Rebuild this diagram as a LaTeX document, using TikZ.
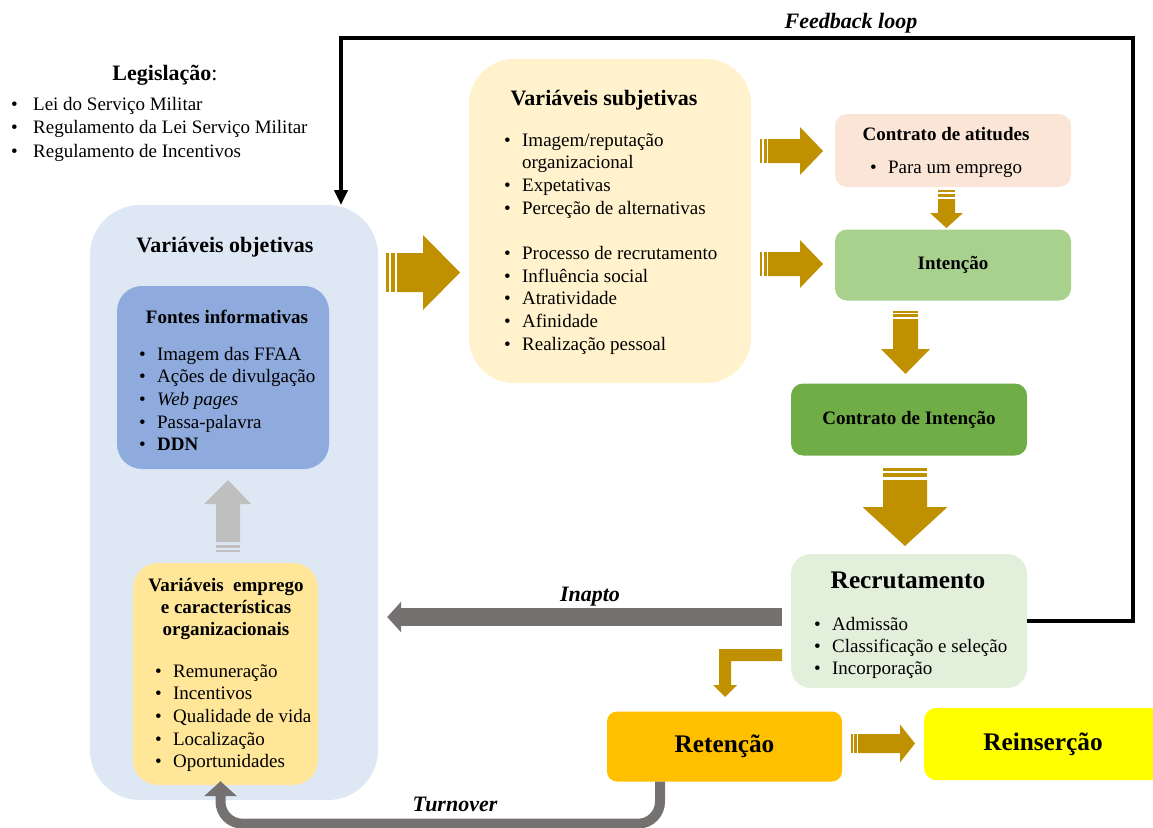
\documentclass[tikz,border=0pt]{standalone}
\usepackage{fontspec}
\setmainfont{Liberation Serif}
\usetikzlibrary{arrows.meta,calc}

\definecolor{objblue}{HTML}{DEE8F5}
\definecolor{fontblue}{HTML}{8FAADC}
\definecolor{empyellow}{HTML}{FFE699}
\definecolor{subjcream}{HTML}{FFF2CC}
\definecolor{atitpink}{HTML}{FBE5D6}
\definecolor{intgreen}{HTML}{A9D18E}
\definecolor{cintgreen}{HTML}{70AD47}
\definecolor{recrgreen}{HTML}{E2EFDA}
\definecolor{retorange}{HTML}{FFC000}
\definecolor{reinsyellow}{HTML}{FFFF00}
\definecolor{gold}{HTML}{BF9000}
\definecolor{darkgrey}{HTML}{767171}
\definecolor{lightgrey}{HTML}{BFBFBF}

% bullet list set as a two-column tabular; optional argument = gap after the bullet
\newcommand\blist[2][11.3pt]{\begin{tabular}[t]{@{}l@{\hspace{#1}}l@{}}#2\end{tabular}}

% striped block arrow pointing right:
% #1 stripes start, #2 shaft start, #3 head base, #4 tip, #5 centre y, #6 shaft half height, #7 head half height
\newcommand\goldright[7]{%
  \pgfmathsetmacro\stA{#1+0.27*(#2-#1)}%
  \pgfmathsetmacro\stB{#1+0.45*(#2-#1)}%
  \pgfmathsetmacro\stC{#1+0.82*(#2-#1)}%
  \fill[gold] (#1,#5-#6) rectangle (\stA,#5+#6);
  \fill[gold] (\stB,#5-#6) rectangle (\stC,#5+#6);
  \fill[gold] (#2,#5-#6) -- (#3,#5-#6) -- (#3,#5-#7) -- (#4,#5) -- (#3,#5+#7) -- (#3,#5+#6) -- (#2,#5+#6) -- cycle;}

% striped block arrow pointing down (same arguments, axes swapped)
\newcommand\golddown[7]{%
  \pgfmathsetmacro\stA{#1+0.22*(#2-#1)}%
  \pgfmathsetmacro\stB{#1+0.42*(#2-#1)}%
  \pgfmathsetmacro\stC{#1+0.78*(#2-#1)}%
  \fill[gold] (#5-#6,#1) rectangle (#5+#6,\stA);
  \fill[gold] (#5-#6,\stB) rectangle (#5+#6,\stC);
  \fill[gold] (#5-#6,#2) -- (#5-#6,#3) -- (#5-#7,#3) -- (#5,#4) -- (#5+#7,#3) -- (#5+#6,#3) -- (#5+#6,#2) -- cycle;}

\begin{document}
\begin{tikzpicture}[x=1pt,y=-1pt,
  panel/.style={rounded corners=#1, inner sep=0pt, draw=none},
  lst/.style={anchor=base west, inner sep=0pt, font=\fontsize{19}{22.7}\selectfont},
  ttl/.style={inner sep=0pt, font=\fontsize{22}{26}\selectfont\bfseries},
  sttl/.style={inner sep=0pt, font=\fontsize{19}{22}\selectfont\bfseries},
  bigt/.style={inner sep=0pt, font=\fontsize{25.3}{30}\selectfont\bfseries},
  lbl/.style={inner sep=0pt, font=\fontsize{22}{26}\selectfont\bfseries\itshape},
  fb/.style={line width=4pt, -{Triangle[width=13pt,length=15pt]}},
  inapto/.style={darkgrey, line width=18pt, -{Triangle[width=30pt,length=14pt]}},
  turn/.style={darkgrey, line width=10pt, rounded corners=22pt, -{Triangle[width=32pt,length=15pt]}}]

\useasboundingbox (0,0) rectangle (1153,827);

% ---------- boxes ----------
\node[panel=50pt, fill=objblue, minimum width=288pt, minimum height=595pt] (obj) at (234,502.5) {};
\node[panel=25pt, fill=fontblue, minimum width=212pt, minimum height=183pt] (font) at (223,377.5) {};
\node[panel=25pt, fill=empyellow, minimum width=185pt, minimum height=222pt] (emp) at (225.5,674) {};
\node[panel=45pt, fill=subjcream, minimum width=282pt, minimum height=324pt] (subj) at (610,221) {};
\node[panel=12pt, fill=atitpink, minimum width=236pt, minimum height=73pt] (atit) at (953,150.5) {};
\node[panel=12pt, fill=intgreen, minimum width=236pt, minimum height=71pt, sttl] (int) at (953,265) {Intenção};
\node[panel=12pt, fill=cintgreen, minimum width=236pt, minimum height=72pt, sttl] (cint) at (909,419.5) {Contrato de Intenção};
\node[panel=20pt, fill=recrgreen, minimum width=236pt, minimum height=134pt] (recr) at (909,621) {};
\node[panel=10pt, fill=retorange, minimum width=235pt, minimum height=70pt, bigt] (ret) at (724.5,746.5) {Retenção};
\node[panel=12pt, fill=reinsyellow, minimum width=241pt, minimum height=72pt] (reins) at (1044.5,744) {};
\node[bigt] (reinst) at (1043,744.5) {Reinserção};

% ---------- legislation ----------
\node[inner sep=0pt, anchor=base, font=\fontsize{22}{26}\selectfont] (legt) at (165,80) {\textbf{Legislação}:};
\node[lst, font=\fontsize{19}{23.5}\selectfont] (leglist) at (11,110) {\blist[15.3pt]{%
  • & Lei do Serviço Militar\\
  • & Regulamento da Lei Serviço Militar\\
  • & Regulamento de Incentivos}};

% ---------- objective variables ----------
\node[ttl] (objt) at (225,247) {Variáveis objetivas};
\node[sttl] (fontt) at (227,317) {Fontes informativas};
\node[lst] (fontlist) at (139,360) {\blist{%
  • & Imagem das FFAA\\
  • & Ações de divulgação\\
  • & \textit{Web pages}\\
  • & Passa-palavra\\
  • & \textbf{DDN}}};
\node[sttl, align=center] (empt) at (226,608.5) {Variáveis\ \ emprego\\e características\\organizacionais};
\node[lst] (emplist) at (155,677) {\blist{%
  • & Remuneração\\
  • & Incentivos\\
  • & Qualidade de vida\\
  • & Localização\\
  • & Oportunidades}};

% ---------- subjective variables ----------
\node[ttl] (subjt) at (604,100) {Variáveis subjetivas};
\node[lst] (subjlist) at (504,146) {\blist{%
  • & Imagem/reputação\\
    & organizacional\\
  • & Expetativas\\
  • & Perceção de alternativas\\[22.7pt]
  • & Processo de recrutamento\\
  • & Influência social\\
  • & Atratividade\\
  • & Afinidade\\
  • & Realização pessoal}};

% ---------- right column ----------
\node[sttl] (atitt) at (946,134.5) {Contrato de atitudes};
\node[lst] (atitlist) at (870,173) {\blist{• & Para um emprego}};
\node[bigt] (recrt) at (908,580) {Recrutamento};
\node[lst, font=\fontsize{19}{22}\selectfont] (recrlist) at (814,630) {\blist{%
  • & Admissão\\
  • & Classificação e seleção\\
  • & Incorporação}};

% ---------- block arrows ----------
\goldright{386}{397}{423}{460}{272.5}{19.5}{37.5}
\goldright{760}{768}{800}{823}{151}{12}{24}
\goldright{760}{768}{800}{823}{264}{12}{24}
\goldright{851}{858}{900}{915}{743.5}{9.5}{19}
\golddown{190}{199}{213}{228}{946.5}{8.5}{16.5}
\golddown{311}{319}{349}{374}{905.5}{12.5}{24.5}
\golddown{468}{480}{507}{546}{905}{22}{42.5}

% bent arrow from recruitment down to retention
\fill[gold] (782,649) -- (719,649) -- (719,685) -- (713,685) -- (725,697)
  -- (737,685) -- (731,685) -- (731,661) -- (782,661) -- cycle;

% grey arrow from employment variables up to information sources
\fill[lightgrey] (216,542) -- (216,504) -- (204,504) -- (228,480) -- (251,504) -- (240,504) -- (240,542) -- cycle;
\fill[lightgrey] (216,545) rectangle (240,547.5);
\fill[lightgrey] (216,549.5) rectangle (240,551.5);

% ---------- connectors ----------
\coordinate (fbin) at (341,205);
\draw[fb] (recr.east) -| (1133,38) -| (fbin);
\node[lbl] (fbt) at (851,23) {Feedback loop};

\path ($(recr.west)+(-9,-4)$) coordinate (inS);
\coordinate (inE) at ($(inS -| obj.east)+(9,0)$);
\draw[inapto] (inS) -- (inE);
\node[lbl] (inaptot) at (590,597) {Inapto};

\coordinate (toS) at ($(ret.south)+(-64.5,0)$);
\coordinate (toE) at ($(emp.south)+(-5,-4)$);
\draw[turn] (toS) -- ++(0,42) -| (toE);
\node[lbl] (turnt) at (455,804) {Turnover};

\end{tikzpicture}
\end{document}
